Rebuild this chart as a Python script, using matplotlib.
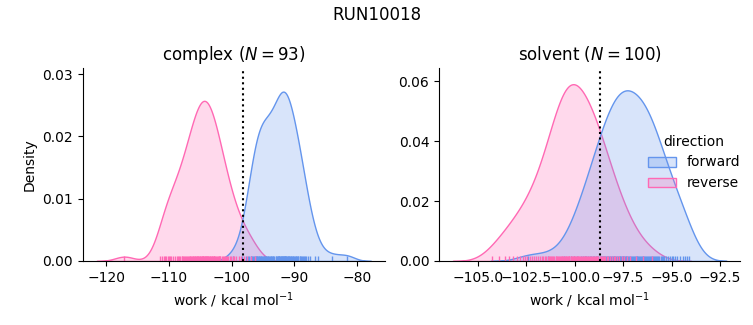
import matplotlib
matplotlib.use('Agg')
import matplotlib.pyplot as plt
from matplotlib.ticker import MultipleLocator
import seaborn as sns
import pandas as pd

RUN = 'RUN10018'
PHASES = ['complex', 'solvent']
DIRECTIONS = ['forward', 'reverse']
PALETTE = {'forward': 'cornflowerblue', 'reverse': 'hotpink'}

# work values (kcal/mol)
complex_forward = [
    -99.8, -98.4, -97.7, -97.4, -97.2, -97.0, -96.9, -96.7,
    -96.6, -96.5, -96.3, -96.2, -96.1, -96.0, -95.9, -95.8, -95.7, -95.6, -95.5,
    -95.4, -95.3, -95.2, -95.0, -94.9, -94.8, -94.7, -94.6, -94.5,
    -94.4, -94.3, -94.2, -94.0, -93.9, -93.8, -93.7, -93.6, -93.5,
    -93.4, -93.2, -93.0, -92.9, -92.8, -92.7, -92.6, -92.5,
    -92.45, -92.4, -92.3, -92.2, -92.1, -92.0, -91.95, -91.9, -91.8, -91.7, -91.6, -91.55,
    -91.5, -91.45, -91.4, -91.3, -91.2, -91.1, -91.0, -90.9, -90.8, -90.7, -90.6, -90.55,
    -90.4, -90.3, -90.2, -90.0, -89.9, -89.8, -89.7, -89.6, -89.5,
    -89.4, -89.2, -89.1, -88.9, -88.8, -88.6, -88.5,
    -88.3, -88.1, -87.8, -87.6, -86.8, -86.2, -84.1, -81.7,
]
complex_reverse = [
    -117.1, -111.4, -111.1, -110.8,
    -110.6, -110.4, -110.2, -110.0, -109.8,
    -109.6, -109.3, -109.1, -108.8,
    -108.6, -108.4, -108.2, -108.0, -107.9, -107.7,
    -107.6, -107.5, -107.3, -107.1, -107.0, -106.8, -106.7,
    -106.6, -106.5, -106.4, -106.2, -106.1, -106.0, -105.9, -105.8, -105.7,
    -105.6, -105.5, -105.4, -105.3, -105.2, -105.1, -105.0, -104.9, -104.8, -104.7,
    -104.65, -104.6, -104.5, -104.4, -104.3, -104.2, -104.1, -104.05, -104.0, -103.9, -103.8, -103.75,
    -103.65, -103.5, -103.4, -103.3, -103.2, -103.1, -103.0, -102.9, -102.8, -102.75,
    -102.6, -102.5, -102.3, -102.2, -102.1, -102.0, -101.9, -101.8,
    -101.6, -101.4, -101.2, -101.1, -100.9, -100.8,
    -100.6, -100.3, -100.1, -99.8, -99.6, -99.3, -98.9,
    -98.5, -98.0, -97.5, -97.0, -96.3,
]
solvent_forward = [
    -102.4, -101.4, -100.55, -100.2, -100.05, -99.9,
    -99.7, -99.6, -99.5, -99.4, -99.3,
    -99.22, -99.15, -99.08, -99.0, -98.92, -98.85, -98.78,
    -98.72, -98.66, -98.61, -98.55, -98.5, -98.45, -98.39, -98.34, -98.28,
    -98.23, -98.18, -98.14, -98.09, -98.05, -98.0, -97.95, -97.91, -97.86, -97.82, -97.77,
    -97.73, -97.69, -97.65, -97.61, -97.57, -97.53, -97.49, -97.45, -97.41, -97.37, -97.33, -97.29,
    -97.23, -97.19, -97.14, -97.09, -97.04, -97.0, -96.96, -96.91, -96.86, -96.81, -96.77,
    -96.72, -96.68, -96.63, -96.58, -96.54, -96.5, -96.46, -96.42, -96.37, -96.32, -96.28,
    -96.22, -96.17, -96.12, -96.07, -96.02, -95.97, -95.92, -95.87, -95.82, -95.77,
    -95.7, -95.63, -95.57, -95.5, -95.43, -95.37, -95.3,
    -95.2, -95.1, -95.0, -94.9, -94.8,
    -94.7, -94.55, -94.4, -94.3, -94.2, -94.12,
]
solvent_reverse = [
    -104.3, -103.9, -103.6, -103.4, -103.2, -103.0, -102.85,
    -102.7, -102.6, -102.45, -102.3,
    -102.2, -102.1, -102.0, -101.9, -101.8,
    -101.7, -101.65, -101.55, -101.5, -101.4, -101.35, -101.3,
    -101.22, -101.18, -101.12, -101.06, -101.0, -100.96, -100.9, -100.85, -100.8, -100.76,
    -100.72, -100.68, -100.64, -100.6, -100.56, -100.52, -100.48, -100.44, -100.4, -100.36, -100.32, -100.3, -100.28,
    -100.22, -100.18, -100.14, -100.1, -100.06, -100.02, -99.98, -99.94, -99.9, -99.86, -99.82, -99.78,
    -99.72, -99.68, -99.63, -99.58, -99.54, -99.5, -99.46, -99.42, -99.37, -99.32, -99.27,
    -99.22, -99.17, -99.12, -99.07, -99.02, -98.98, -98.93, -98.88, -98.83, -98.78,
    -98.72, -98.66, -98.6, -98.54, -98.48, -98.42, -98.36, -98.3,
    -98.2, -98.1, -98.0, -97.9, -97.8,
    -97.7, -97.55, -97.45, -97.3, -97.15, -96.85, -96.5, -96.0,
]

# free energy estimates (dotted lines)
dg_estimate = {'complex': -98.2, 'solvent': -98.7}
n_cycles = {'complex': 93, 'solvent': 100}
y_top = {'complex': 0.031, 'solvent': 0.0645}
y_step = {'complex': 0.01, 'solvent': 0.02}

works = {
    ('complex', 'forward'): complex_forward,
    ('complex', 'reverse'): complex_reverse,
    ('solvent', 'forward'): solvent_forward,
    ('solvent', 'reverse'): solvent_reverse,
}
rows = []
for (phase, direction), vals in works.items():
    for w in vals:
        rows.append({'phase': phase, 'direction': direction, 'work': w})
df = pd.DataFrame(rows)

g = sns.displot(df, x='work', hue='direction', col='phase', kind='kde',
                fill=True, rug=True, palette=PALETTE, hue_order=DIRECTIONS,
                col_order=PHASES,
                facet_kws=dict(sharex=False, sharey=False))

fig = g.figure
fig.set_size_inches(7.53, 3.25)
fig.suptitle(RUN, fontsize=12)

positions = [[0.110, 0.197, 0.401, 0.594], [0.583, 0.197, 0.400, 0.594]]
for ax, phase, pos in zip(g.axes.flat, PHASES, positions):
    ax.set_position(pos)
    ax.axvline(dg_estimate[phase], color='k', linestyle=':', linewidth=1.5)
    ax.set_title('{} ($N={}$)'.format(phase, n_cycles[phase]), fontsize=12)
    ax.set_xlabel('work / kcal mol$^{-1}$')
    ax.set_ylim(0, y_top[phase])
    ax.yaxis.set_major_locator(MultipleLocator(y_step[phase]))
g.axes.flat[0].set_ylabel('Density')
g.axes.flat[1].set_ylabel('')

fig.savefig('out.png', dpi=100)
